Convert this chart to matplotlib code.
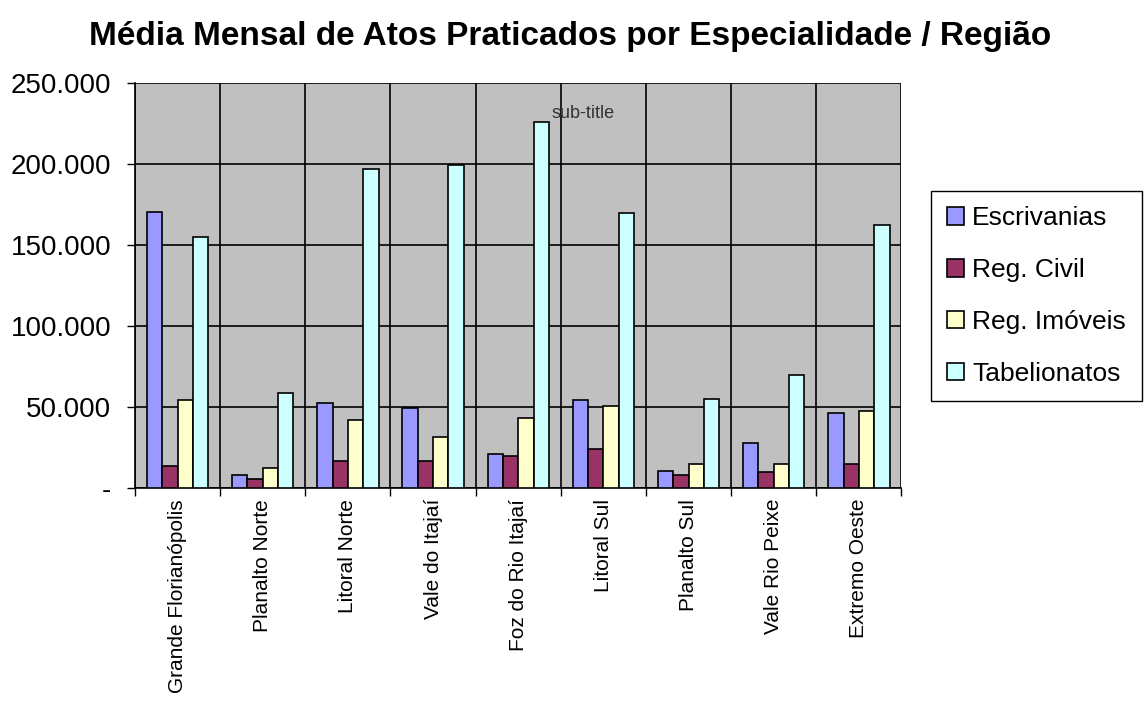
import numpy as np
import matplotlib.pyplot as plt
from matplotlib.ticker import FuncFormatter

plt.rcParams['font.family'] = ['Liberation Sans', 'DejaVu Sans']

# Regions and series (monthly average acts)
regioes = ["Grande Florianópolis", "Planalto Norte", "Litoral Norte", "Vale do Itajaí",
           "Foz do Rio Itajaí", "Litoral Sul", "Planalto Sul", "Vale Rio Peixe", "Extremo Oeste"]
escrivanias = [170500, 7800, 52400, 49500, 21000, 54500, 10300, 27600, 46200]
reg_civil = [13200, 5600, 16500, 16500, 19600, 23700, 7800, 9500, 14900]
reg_imoveis = [54500, 12400, 41700, 31300, 43300, 50300, 14900, 14900, 47400]
tabelionatos = [155100, 58500, 197200, 199600, 226200, 169900, 55100, 69500, 162300]

series = [("Escrivanias", escrivanias, "#9999FF"),
          ("Reg. Civil", reg_civil, "#993366"),
          ("Reg. Imóveis", reg_imoveis, "#FFFFCC"),
          ("Tabelionatos", tabelionatos, "#CCFFFF")]

fig = plt.figure(figsize=(11.44, 7.05), dpi=100)
ax = fig.add_axes([0.118, 0.308, 0.670, 0.574])
ax.set_facecolor("#C0C0C0")

x = np.arange(len(regioes))
w = 0.18
for i, (nome, vals, cor) in enumerate(series):
    ax.bar(x + (i - 1.5) * w, vals, w, color=cor, edgecolor="black", linewidth=1.2,
           label=nome, zorder=3)

ax.set_xlim(-0.5, len(regioes) - 0.5)
ax.set_ylim(0, 250000)
ax.set_yticks(np.arange(0, 250001, 50000))
ax.yaxis.set_major_formatter(FuncFormatter(
    lambda v, p: "-" if v == 0 else f"{int(v):,}".replace(",", ".")))

# category boundaries as major ticks, names at centres
ax.set_xticks(np.arange(-0.5, len(regioes), 1.0))
ax.set_xticklabels([])
ax.set_xticks(x, minor=True)
ax.set_xticklabels(regioes, minor=True, rotation=90, fontsize=15)
ax.tick_params(axis="x", which="minor", length=0, pad=8)
ax.tick_params(axis="x", which="major", length=6, width=1, direction="out")
ax.tick_params(axis="y", labelsize=20, length=6, width=1, direction="out", pad=11)

ax.grid(True, which="major", color="black", linewidth=1.2, zorder=1)
ax.set_axisbelow(True)
for s in ax.spines.values():
    s.set_color("black")
    s.set_linewidth(1.2)
ax.spines["top"].set_visible(False)
ax.spines["right"].set_visible(False)

ax.text(0.584, 0.926, "sub-title", transform=ax.transAxes, fontsize=13,
        color="#333333", ha="center", va="center", zorder=4)

fig.suptitle("Média Mensal de Atos Praticados por Especialidade / Região",
             fontsize=24, fontweight="bold", x=0.498, y=0.97)

leg = ax.legend(loc="center left", bbox_to_anchor=(1.039, 0.474), fontsize=19,
                frameon=True, fancybox=False, edgecolor="black", framealpha=1,
                handlelength=0.65, handleheight=0.65, handletextpad=0.3,
                labelspacing=1.05, borderpad=0.6, borderaxespad=0)
leg.get_frame().set_linewidth(1.0)

fig.savefig("out.png", dpi=100)
